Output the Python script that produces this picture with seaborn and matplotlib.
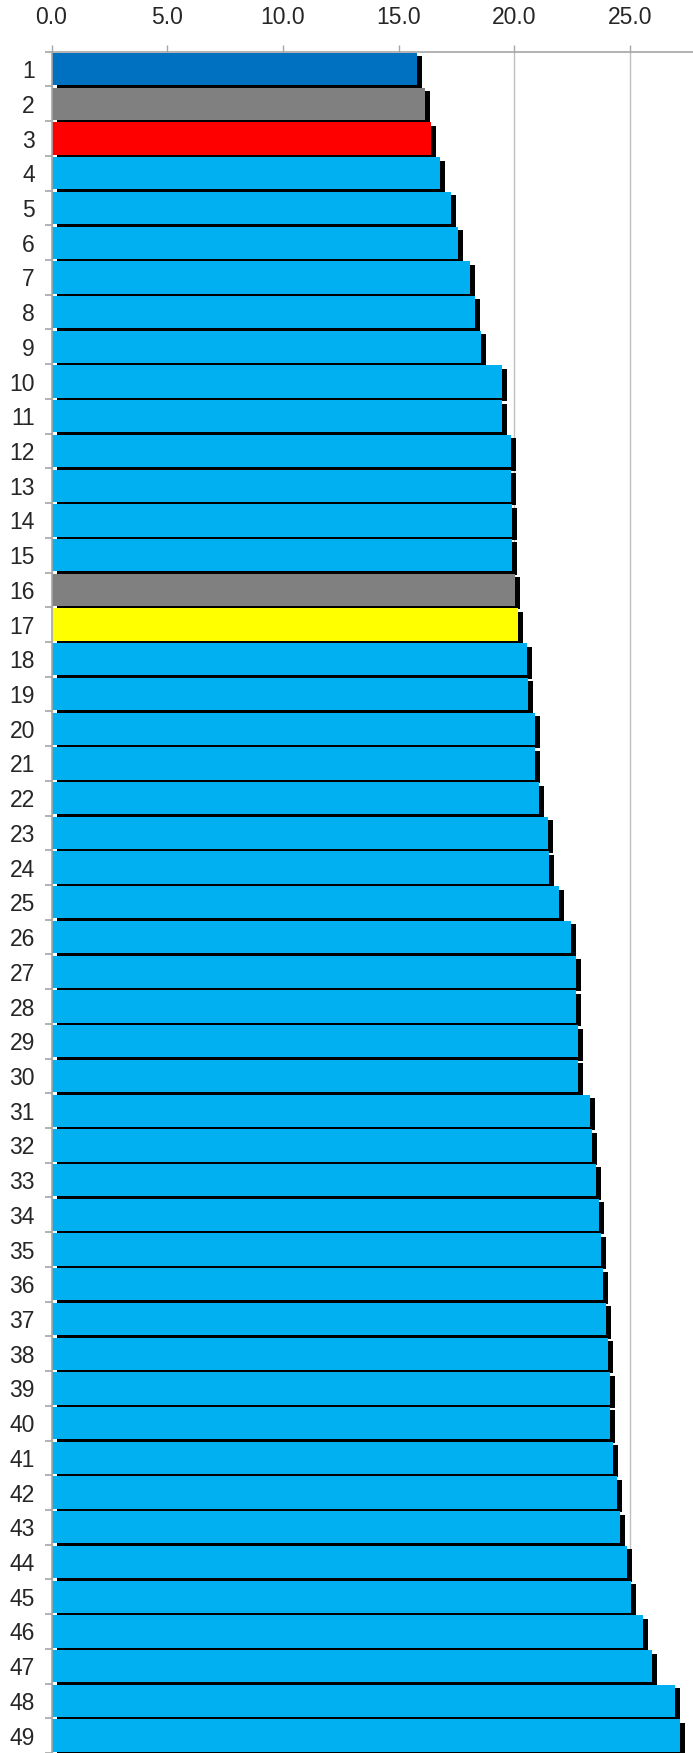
import matplotlib
matplotlib.use("Agg")
import matplotlib.pyplot as plt
import matplotlib.patheffects as pe
import seaborn as sns
import pandas as pd

# ranks shown on the y axis
ranks = [str(i) for i in range(1, 50)]

# bar lengths
values = [15.8, 16.15, 16.4, 16.8, 17.25, 17.55, 18.1, 18.3, 18.55, 19.45,
          19.45, 19.85, 19.85, 19.9, 19.9, 20.05, 20.15, 20.55, 20.6, 20.9,
          20.9, 21.05, 21.45, 21.5, 21.95, 22.45, 22.65, 22.65, 22.75, 22.75,
          23.25, 23.35, 23.55, 23.65, 23.75, 23.85, 23.95, 24.05, 24.15, 24.15,
          24.25, 24.45, 24.55, 24.85, 25.05, 25.55, 25.95, 26.95, 27.15]

# special bars, everything else is light blue
highlight = {"1": "#0070C0", "2": "#808080", "3": "#FF0000",
             "16": "#808080", "17": "#FFFF00"}
base_color = "#00B0F0"

x_ticks = [0, 5, 10, 15, 20, 25]

df = pd.DataFrame({"rank": ranks, "value": values})
palette = {r: highlight.get(r, base_color) for r in ranks}

sns.set_style("white")
plt.rcParams["font.family"] = ["Liberation Sans", "DejaVu Sans"]

fig = plt.figure(figsize=(6.93, 17.53), dpi=100)
ax = fig.add_axes([51.5 / 693, 0, 1 - 51.5 / 693, (1753 - 51.7) / 1753])

sns.barplot(data=df, x="value", y="rank", hue="rank", palette=palette,
            legend=False, width=0.93, saturation=1, orient="h", ax=ax)

# black drop shadow on every bar
for p in ax.patches:
    p.set_linewidth(0)
    p.set_path_effects([pe.SimplePatchShadow(offset=(3.6, -2.5),
                                             shadow_rgbFace="black", alpha=1),
                        pe.Normal()])

ax.set_xlim(0, 641.5 / 23.14)
ax.set_ylim(48.39, -0.5)

ax.xaxis.tick_top()
ax.set_xticks(x_ticks)
ax.set_xticklabels([f"{t:.1f}" for t in x_ticks])
ax.tick_params(axis="x", which="major", length=5, color="#A6A6A6",
               width=1, pad=11, labelsize=16.5, top=True, bottom=False)

ax.set_yticks(range(len(ranks)))
ax.set_yticklabels(ranks)
ax.set_yticks([i - 0.5 for i in range(len(ranks) + 1)], minor=True)
ax.tick_params(axis="y", which="major", length=0, pad=12, labelsize=16.5)
ax.tick_params(axis="y", which="minor", length=5, color="#A6A6A6",
               width=1.2, left=True)

ax.set_xlabel("")
ax.set_ylabel("")

ax.grid(axis="x", color="#BFBFBF", lw=1)
ax.set_axisbelow(True)

for s in ["right", "bottom"]:
    ax.spines[s].set_visible(False)
for s in ["top", "left"]:
    ax.spines[s].set_color("#A6A6A6")
    ax.spines[s].set_linewidth(1.2)

fig.savefig("out.png", dpi=100)
